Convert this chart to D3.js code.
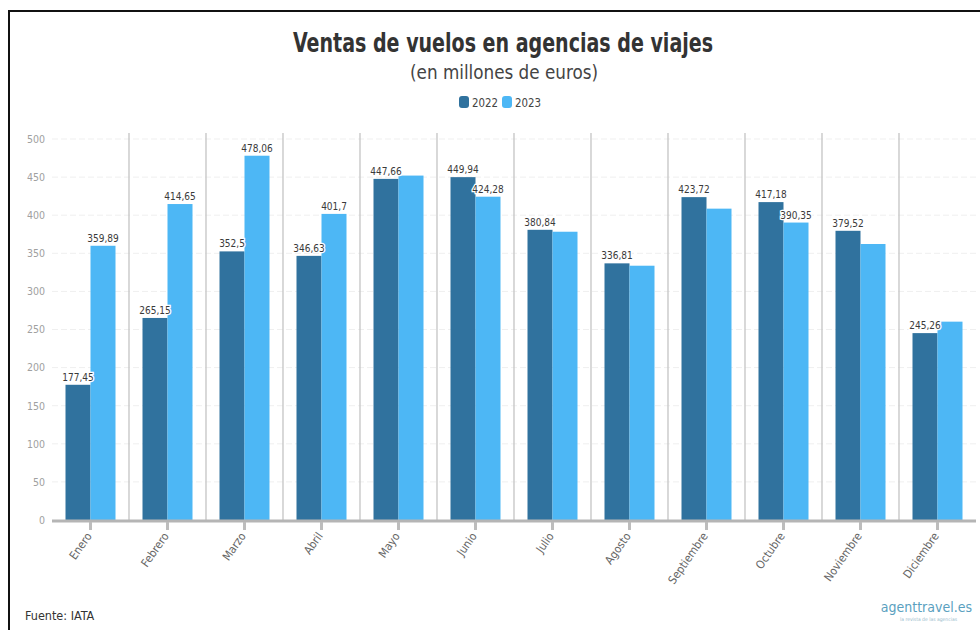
<!DOCTYPE html>
<html><head><meta charset="utf-8">
<script src="https://cdn.jsdelivr.net/npm/d3@7"></script>
<style>
html,body{margin:0;padding:0;background:#fff;}
svg{display:block;}
text{font-family:"Liberation Sans Narrow","DejaVu Sans Condensed","Roboto",sans-serif;}
</style></head>
<body><svg id="c" width="980" height="630"></svg>
<script>
const months = ["Enero","Febrero","Marzo","Abril","Mayo","Junio","Julio","Agosto","Septiembre","Octubre","Noviembre","Diciembre"];
const series = ["2022","2023"];
const values2022 = [177.45,265.15,352.5,346.63,447.66,449.94,380.84,336.81,423.72,417.18,379.52,245.26];
const values2023 = [359.89,414.65,478.06,401.7,452,424.28,378.3,333.7,408.6,390.35,362.2,260.3];
const labels2022 = ["177,45","265,15","352,5","346,63","447,66","449,94","380,84","336,81","423,72","417,18","379,52","245,26"];
const labels2023 = ["359,89","414,65","478,06","401,7",null,"424,28",null,null,null,"390,35",null,null];
const yTicks = [0,50,100,150,200,250,300,350,400,450,500];
const colors = ["#30729e","#4db7f5"];
const title = "Ventas de vuelos en agencias de viajes";
const subtitle = "(en millones de euros)";
const source = "Fuente: IATA";

const svg = d3.select("#c");
// frame
svg.append("rect").attr("x",9).attr("y",11).attr("width",990).attr("height",640)
  .attr("fill","none").attr("stroke","#111").attr("stroke-width",2);

const L=52, R=976, T=139, B=520;
const x = d3.scaleBand().domain(months).range([L,R]).padding(0);
const xs = d3.scaleBand().domain(series).range([0,x.bandwidth()]).paddingInner(0).paddingOuter(0.54);
const y = d3.scaleLinear().domain([0,500]).range([B,T]);

// grid
svg.append("g").selectAll("line").data(yTicks.filter(d=>d>0)).join("line")
  .attr("x1",L).attr("x2",R).attr("y1",d=>y(d)).attr("y2",d=>y(d))
  .attr("stroke","#efefef").attr("stroke-width",1).attr("stroke-dasharray","6,3");

// y axis labels
const ya = svg.append("g").attr("transform",`translate(${L},0)`)
  .call(d3.axisLeft(y).tickValues(yTicks).tickSize(0).tickPadding(7));
ya.select(".domain").remove();
ya.selectAll("text").attr("fill","#a0a0a0").style("font-size","10.5px")
  .style("font-family",'"Liberation Sans Narrow","DejaVu Sans Condensed",sans-serif');

// separators
svg.append("g").selectAll("line").data(months.slice(1)).join("line")
  .attr("x1",d=>x(d)).attr("x2",d=>x(d)).attr("y1",133).attr("y2",B)
  .attr("stroke","#c4c4c4").attr("stroke-width",1.3);

// bars
const data = months.map((m,i)=>({m, v:[values2022[i],values2023[i]], l:[labels2022[i],labels2023[i]]}));
const g = svg.append("g").selectAll("g").data(data).join("g").attr("transform",d=>`translate(${x(d.m)},0)`);
g.selectAll("rect").data(d=>series.map((s,j)=>({s,v:d.v[j]}))).join("rect")
  .attr("x",d=>xs(d.s)).attr("width",xs.bandwidth())
  .attr("y",d=>y(d.v)).attr("height",d=>B-y(d.v))
  .attr("fill",(d,j)=>colors[j]);

// baseline
svg.append("line").attr("x1",L).attr("x2",R).attr("y1",B+1).attr("y2",B+1)
  .attr("stroke","#b5b5b5").attr("stroke-width",3);

// x axis
const xa = svg.append("g").attr("transform",`translate(0,${B+2})`)
  .call(d3.axisBottom(x).tickSize(8).tickPadding(4));
xa.select(".domain").remove();
xa.selectAll(".tick line").attr("stroke","#bdbdbd").attr("stroke-width",3);
xa.selectAll("text").attr("fill","#666").style("font-size","11.5px")
  .style("font-family",'"Liberation Sans Narrow","DejaVu Sans Condensed",sans-serif')
  .attr("text-anchor","end").attr("dy","0.3em")
  .attr("transform","translate(-1,12) rotate(-55)").attr("y",0).attr("x",0);

// data labels
g.selectAll("text.lbl").data(d=>series.map((s,j)=>({s,v:d.v[j],l:d.l[j]})).filter(e=>e.l)).join("text")
  .attr("class","lbl")
  .attr("x",d=>xs(d.s)+xs.bandwidth()/2).attr("y",d=>y(d.v)-4)
  .attr("text-anchor","middle").style("font-size","10px").attr("fill","#3a3a3a")
  .attr("stroke","#fff").attr("stroke-width",2.5).attr("paint-order","stroke")
  .text(d=>d.l);

// title
svg.append("text").attr("x",503).attr("y",52).attr("text-anchor","middle")
  .style("font-size","26px").style("font-weight","bold").attr("fill","#333")
  .attr("textLength",420).attr("lengthAdjust","spacingAndGlyphs").text(title);
svg.append("text").attr("x",504).attr("y",79).attr("text-anchor","middle")
  .style("font-size","20px").attr("fill","#444")
  .attr("textLength",188).attr("lengthAdjust","spacingAndGlyphs").text(subtitle);

// legend
const lg = svg.append("g").attr("transform","translate(459,96)");
series.forEach((s,i)=>{
  const o = i*43;
  lg.append("rect").attr("x",o).attr("y",0).attr("width",10).attr("height",12).attr("rx",3).attr("fill",colors[i]);
  lg.append("text").attr("x",o+13).attr("y",10.5).style("font-size","12px").attr("fill","#444")
    .attr("textLength",26).attr("lengthAdjust","spacingAndGlyphs").text(s);
});

// footer
svg.append("text").attr("x",25).attr("y",620).style("font-size","12.5px").attr("fill","#333").text(source);
svg.append("text").attr("x",972).attr("y",612).attr("text-anchor","end").style("font-size","14px").attr("fill","#5a9fc0")
  .text("agenttravel.es");
svg.append("text").attr("x",957).attr("y",621).attr("text-anchor","end").style("font-size","5px").attr("fill","#9bbccc")
  .text("la revista de las agencias");
</script></body></html>
